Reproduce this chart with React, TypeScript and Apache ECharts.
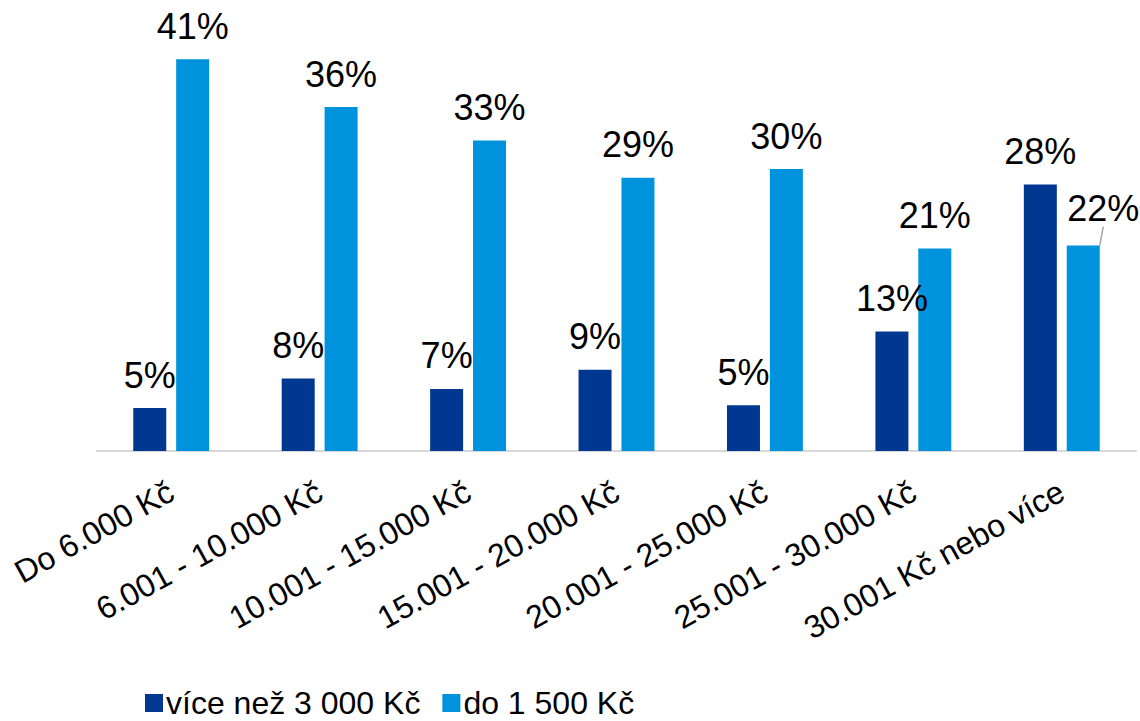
import React, { useEffect, useRef } from "react";
import * as echarts from "echarts";

const categories = [
  "Do 6.000 Kč",
  "6.001 - 10.000 Kč",
  "10.001 - 15.000 Kč",
  "15.001 - 20.000 Kč",
  "20.001 - 25.000 Kč",
  "25.001 - 30.000 Kč",
  "30.001 Kč nebo více",
];
const seriesNames = ["více než 3 000 Kč", "do 1 500 Kč"];
const over3000 = [4.5, 7.6, 6.5, 8.5, 4.8, 12.5, 27.9];
const upTo1500 = [41.0, 36.0, 32.5, 28.6, 29.5, 21.2, 21.5];

const FONT = "'Liberation Sans', Arial, sans-serif";

export default function App() {
  const ref = useRef<HTMLDivElement>(null);
  useEffect(() => {
    if (!ref.current) return;
    const chart = echarts.init(ref.current, undefined, { renderer: "svg" });
    const labelFmt = (p: any) => Math.round(p.value) + "%";
    const lastIdx = categories.length - 1;
    chart.setOption({
      animation: false,
      textStyle: { fontFamily: FONT },
      grid: { left: 97, right: 4, top: 21, bottom: 270, containLabel: false },
      legend: {
        left: 140,
        top: 682,
        itemWidth: 18,
        itemHeight: 18,
        itemGap: 22,
        icon: "rect",
        textStyle: { fontSize: 32, color: "#000", fontFamily: FONT, padding: [0, 0, 0, -2] },
        data: seriesNames,
      },
      xAxis: {
        type: "category",
        data: categories,
        axisLine: { show: true, lineStyle: { color: "#d9d9d9", width: 2 } },
        axisTick: { show: false },
        axisLabel: {
          interval: 0,
          rotate: 29,
          margin: 38,
          fontSize: 32,
          color: "#000",
          fontFamily: FONT,
        },
      },
      yAxis: {
        type: "value",
        min: 0,
        max: 45,
        show: false,
        splitLine: { show: false },
      },
      series: [
        {
          name: seriesNames[0],
          type: "bar",
          barWidth: 33,
          barGap: "30%",
          itemStyle: { color: "#003891" },
          label: {
            show: true,
            position: "top",
            distance: 15,
            fontSize: 36,
            color: "#000",
            fontFamily: FONT,
            formatter: labelFmt,
          },
          data: over3000,
        },
        {
          name: seriesNames[1],
          type: "bar",
          barWidth: 33,
          barGap: "30%",
          itemStyle: { color: "#0093DD" },
          label: {
            show: true,
            position: "top",
            distance: 15,
            fontSize: 36,
            color: "#000",
            fontFamily: FONT,
            formatter: labelFmt,
          },
          labelLayout: (params: any) => {
            if (params.dataIndex !== lastIdx) return {};
            const r = params.rect;
            const cx = r.x + r.width / 2;
            return {
              dx: 20,
              dy: -4,
              labelLinePoints: [
                [cx, r.y],
                [cx + 14, r.y - 11],
              ],
            };
          },
          data: upTo1500.map((v, i) =>
            i === lastIdx
              ? {
                  value: v,
                  labelLine: { show: true, lineStyle: { color: "#a6a6a6", width: 1.5 } },
                }
              : v
          ),
        },
      ],
    });
    return () => chart.dispose();
  }, []);
  return <div ref={ref} style={{ width: 1140, height: 721, position: "absolute", left: 0, top: 0 }} />;
}
